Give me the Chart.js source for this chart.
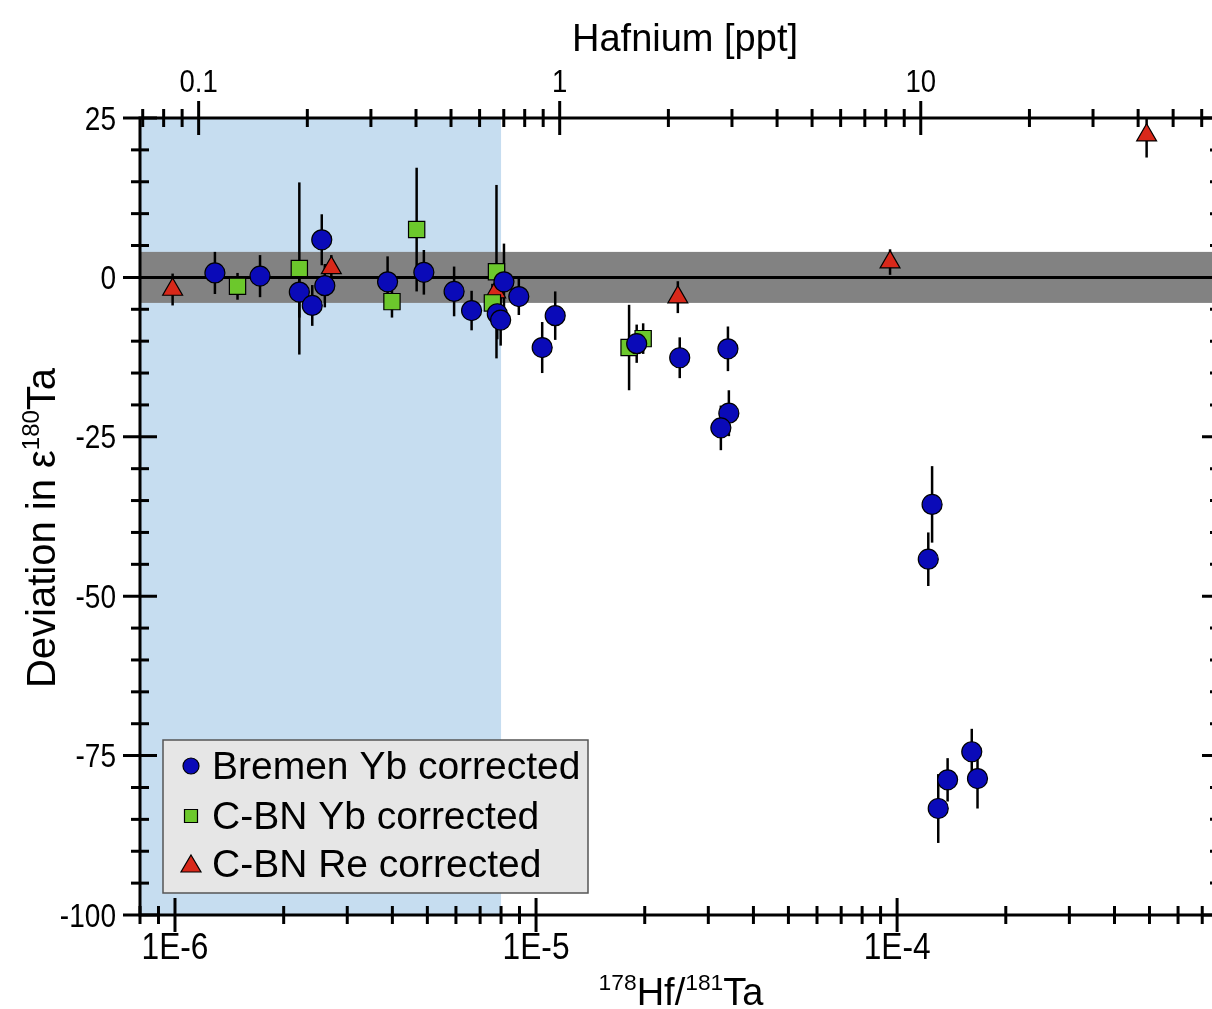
<!DOCTYPE html>
<html>
<head>
<meta charset="utf-8">
<script src="https://cdn.jsdelivr.net/npm/chart.js@4"></script>
<style>
  html, body { margin: 0; padding: 0; background: #fff; overflow: hidden; }
  #wrap { width: 1212px; height: 1009px; }
</style>
</head>
<body>
<div id="wrap"><canvas id="hfChart" width="1212" height="1009"></canvas></div>
<script>
//------------------------------------------- DATA ---------------------------------------------
// 178Hf/181Ta ratio, deviation in epsilon 180Ta and 2SD error
const bremenX = [1.29e-6, 1.72e-6, 2.21e-6, 2.40e-6, 2.55e-6, 2.60e-6, 3.88e-6, 4.89e-6, 5.93e-6, 6.63e-6,
  8.15e-6, 7.81e-6, 7.98e-6, 8.96e-6, 1.04e-5, 1.13e-5, 1.90e-5, 2.50e-5, 3.40e-5, 3.42e-5, 3.25e-5,
  1.25e-4, 1.22e-4, 1.30e-4, 1.38e-4, 1.61e-4, 1.67e-4];
const bremenY = [0.7, 0.2, -2.3, -4.4, 5.9, -1.3, -0.7, 0.8, -2.2, -5.2,
  -0.7, -5.7, -6.7, -3.0, -11.0, -6.0, -10.4, -12.6, -11.2, -21.3, -23.6,
  -35.6, -44.2, -83.3, -78.8, -74.4, -78.6];
const bremenErr = [3.3, 3.3, 4, 3.2, 4, 3.4, 4, 3.5, 3.9, 3.1,
  6, 4, 4, 2.9, 4, 3.8, 3, 3.2, 3.5, 3.6, 3.5,
  6, 4.2, 5.4, 3.4, 3.6, 4.7];

const cbnYbX = [1.49e-6, 2.21e-6, 3.99e-6, 4.67e-6, 7.77e-6, 7.57e-6, 1.81e-5, 1.98e-5];
const cbnYbY = [-1.4, 1.4, -3.8, 7.5, 0.9, -4.0, -11.0, -9.6];
const cbnYbErr = [2.1, 13.5, 2.5, 9.7, 13.6, 3, 6.7, 2.4];

const cbnReX = [9.85e-7, 2.71e-6, 7.73e-6, 2.47e-5, 9.56e-5, 4.91e-4];
const cbnReY = [-1.9, 1.5, -2.3, -3.1, 2.4, 22.3];
const cbnReErr = [2.5, 2, 2.5, 2.5, 2, 3.5];

const seriesLabels = ["Bremen Yb corrected", "C-BN Yb corrected", "C-BN Re corrected"];

// axes
const xRange = [8e-7, 7.45e-4];
const xMajorTicks = [1e-6, 1e-5, 1e-4];
const xTickLabels = ["1E-6", "1E-5", "1E-4"];
const ppt = 86000; // ratio -> Hf ppt
const topMajorTicks = [0.1, 1, 10];
const topTickLabels = ["0.1", "1", "10"];
const yRange = [-100, 25];
const yMajorTicks = [-100, -75, -50, -25, 0, 25];
const yTickLabels = ["-100", "-75", "-50", "-25", "0", "25"];
const yMinorStep = 5;

const shadeEnd = 8e-6;   // blue range
const bandHalf = 4;      // grey reproducibility band

const FONT = "'Liberation Sans', Arial, sans-serif";

//------------------------------------------ HELPERS --------------------------------------------
function pts(xs, ys) {
  return xs.map((v, i) => ({ x: v, y: ys[i] }));
}

function logMinors(min, max) {
  const out = [];
  for (let e = Math.floor(Math.log10(min)); e <= Math.ceil(Math.log10(max)); e++) {
    for (let m = 2; m <= 9; m++) {
      const v = m * Math.pow(10, e);
      if (v >= min && v <= max) out.push(v);
    }
  }
  return out;
}

function drawRich(ctx, parts, cx, base, size) {
  let w = 0;
  parts.forEach(([t, sup]) => {
    ctx.font = (sup ? size * 0.6 : size) + "px " + FONT;
    w += ctx.measureText(t).width;
  });
  let xx = cx - w / 2;
  ctx.textAlign = "left";
  ctx.textBaseline = "alphabetic";
  parts.forEach(([t, sup]) => {
    ctx.font = (sup ? size * 0.6 : size) + "px " + FONT;
    ctx.fillText(t, xx, sup ? base - size * 0.4 : base);
    xx += ctx.measureText(t).width;
  });
}

// tick labels in the figure are condensed, squeeze them horizontally
function narrowText(ctx, text, x, y, size, align, squeeze) {
  ctx.save();
  ctx.font = size + "px " + FONT;
  ctx.textAlign = align;
  ctx.textBaseline = "alphabetic";
  ctx.translate(x, y);
  ctx.scale(squeeze, 1);
  ctx.fillText(text, 0, 0);
  ctx.restore();
}

const errors = [bremenErr, cbnYbErr, cbnReErr];

//------------------------------------------ PLUGINS --------------------------------------------
const backdrop = {
  id: "backdrop",
  beforeDatasetsDraw(chart) {
    const { ctx, chartArea: a, scales } = chart;
    const x = scales.x, y = scales.y;
    ctx.save();
    ctx.beginPath();
    ctx.rect(a.left, a.top, a.right - a.left, a.bottom - a.top);
    ctx.clip();

    const xs = x.getPixelForValue(shadeEnd);
    ctx.fillStyle = "#c6ddf0";
    ctx.fillRect(a.left, a.top, xs - a.left, a.bottom - a.top);

    const yt = y.getPixelForValue(bandHalf), yb = y.getPixelForValue(-bandHalf);
    ctx.fillStyle = "#828282";
    ctx.fillRect(a.left, yt, a.right - a.left, yb - yt);

    ctx.strokeStyle = "#000";
    ctx.lineWidth = 3;
    ctx.beginPath();
    ctx.moveTo(a.left, y.getPixelForValue(0));
    ctx.lineTo(a.right, y.getPixelForValue(0));
    ctx.stroke();

    // error bars
    ctx.lineWidth = 2.5;
    chart.data.datasets.forEach((ds, i) => {
      ds.data.forEach((p, j) => {
        const e = errors[i][j];
        const px = x.getPixelForValue(p.x);
        ctx.beginPath();
        ctx.moveTo(px, y.getPixelForValue(p.y + e));
        ctx.lineTo(px, y.getPixelForValue(p.y - e));
        ctx.stroke();
      });
    });
    ctx.restore();
  },
};

const frame = {
  id: "frame",
  afterDraw(chart) {
    const { ctx, chartArea: a, scales } = chart;
    const x = scales.x, y = scales.y, top = scales.top;
    const rightAxis = a.right + 7; // right frame sits just outside the picture
    ctx.save();
    ctx.strokeStyle = "#000";
    ctx.lineWidth = 3;
    ctx.lineCap = "butt";

    // axis lines
    ctx.beginPath();
    ctx.moveTo(a.left, a.top); ctx.lineTo(a.right, a.top);
    ctx.moveTo(a.left, a.bottom); ctx.lineTo(a.right, a.bottom);
    ctx.moveTo(a.left, a.top - 1.5); ctx.lineTo(a.left, a.bottom + 1.5);
    ctx.stroke();

    const vTick = (px, py, up, down) => {
      ctx.beginPath(); ctx.moveTo(px, py - up); ctx.lineTo(px, py + down); ctx.stroke();
    };
    const hTick = (px, py, l, r) => {
      ctx.beginPath(); ctx.moveTo(px - l, py); ctx.lineTo(px + r, py); ctx.stroke();
    };

    // bottom axis
    logMinors(xRange[0], xRange[1]).forEach(v => vTick(x.getPixelForValue(v), a.bottom, 9, 9));
    xMajorTicks.forEach(v => vTick(x.getPixelForValue(v), a.bottom, 17, 17));
    // top axis (ppt)
    logMinors(xRange[0] * ppt, xRange[1] * ppt).forEach(v => vTick(top.getPixelForValue(v), a.top, 9, 9));
    topMajorTicks.forEach(v => vTick(top.getPixelForValue(v), a.top, 17, 17));
    // left / right axes
    for (let v = yRange[0]; v <= yRange[1]; v += yMinorStep) {
      const py = y.getPixelForValue(v);
      const major = yMajorTicks.includes(v);
      hTick(a.left, py, major ? 17 : 9, major ? 17 : 9);
      hTick(rightAxis, py, major ? 17 : 9, major ? 17 : 9);
    }

    // tick labels
    ctx.fillStyle = "#000";
    xMajorTicks.forEach((v, i) => narrowText(ctx, xTickLabels[i], x.getPixelForValue(v), 959, 36, "center", 0.88));
    topMajorTicks.forEach((v, i) => narrowText(ctx, topTickLabels[i], top.getPixelForValue(v), 92, 32, "center", 0.86));
    yMajorTicks.forEach((v, i) => narrowText(ctx, yTickLabels[i], 116, y.getPixelForValue(v) + 11.5, 33, "right", 0.85));

    // axis titles
    drawRich(ctx, [["Hafnium [ppt]", false]], 685, 51, 38);
    drawRich(ctx, [["178", true], ["Hf/", false], ["181", true], ["Ta", false]], 681, 1005, 38);
    ctx.save();
    ctx.translate(55, 528);
    ctx.rotate(-Math.PI / 2);
    drawRich(ctx, [["Deviation in ", false], ["\u03b5", false], ["180", true], ["Ta", false]], 0, 0, 40);
    ctx.restore();

    // legend box
    const lx = 163, ly = 740, lw = 425, lh = 153;
    ctx.fillStyle = "#e6e6e6";
    ctx.fillRect(lx, ly, lw, lh);
    ctx.strokeStyle = "#555";
    ctx.lineWidth = 1.5;
    ctx.strokeRect(lx, ly, lw, lh);
    const rows = [766, 816, 864];
    chart.data.datasets.forEach((ds, i) => {
      const cy = rows[i], cx = 191;
      ctx.fillStyle = ds.backgroundColor;
      ctx.strokeStyle = "#000";
      ctx.lineWidth = 1.2;
      ctx.beginPath();
      if (ds.pointStyle === "circle") {
        ctx.arc(cx, cy, 8, 0, Math.PI * 2);
      } else if (ds.pointStyle === "rect") {
        ctx.rect(cx - 6.5, cy - 6.5, 13, 13);
      } else {
        ctx.moveTo(cx, cy - 9);
        ctx.lineTo(cx + 10, cy + 8);
        ctx.lineTo(cx - 10, cy + 8);
        ctx.closePath();
      }
      ctx.fill();
      ctx.stroke();
      ctx.fillStyle = "#000";
      ctx.font = "39px " + FONT;
      ctx.textAlign = "left";
      ctx.textBaseline = "middle";
      ctx.fillText(ds.label, 212, cy + 2);
    });
    ctx.restore();
  },
};

//------------------------------------------ CHART ----------------------------------------------
const hfCTX = document.getElementById("hfChart");

const dataHf = {
  datasets: [
    {
      label: seriesLabels[0],
      data: pts(bremenX, bremenY),
      pointStyle: "circle",
      pointRadius: 10,
      backgroundColor: "#0a0ab8",
      borderColor: "#000",
      borderWidth: 1.2,
    },
    {
      label: seriesLabels[1],
      data: pts(cbnYbX, cbnYbY),
      pointStyle: "rect",
      pointRadius: 11.5,
      backgroundColor: "#6cc82c",
      borderColor: "#000",
      borderWidth: 1.2,
    },
    {
      label: seriesLabels[2],
      data: pts(cbnReX, cbnReY),
      pointStyle: "triangle",
      pointRadius: 11.5,
      backgroundColor: "#d8281a",
      borderColor: "#000",
      borderWidth: 1.2,
    },
  ],
};

const hiddenTicks = { display: false };

const configHf = {
  type: "scatter",
  data: dataHf,
  options: {
    responsive: false,
    animation: false,
    devicePixelRatio: 1,
    layout: { padding: 0, autoPadding: false },
    plugins: {
      legend: { display: false },
      tooltip: { enabled: false },
    },
    scales: {
      x: {
        type: "logarithmic",
        position: "bottom",
        min: xRange[0],
        max: xRange[1],
        grid: { display: false, drawTicks: false },
        border: { display: false },
        ticks: hiddenTicks,
        afterFit: (s) => { s.height = 94; },
      },
      top: {
        type: "logarithmic",
        position: "top",
        min: xRange[0] * ppt,
        max: xRange[1] * ppt,
        grid: { display: false, drawTicks: false },
        border: { display: false },
        ticks: hiddenTicks,
        afterFit: (s) => { s.height = 118; },
      },
      y: {
        type: "linear",
        position: "left",
        min: yRange[0],
        max: yRange[1],
        grid: { display: false, drawTicks: false },
        border: { display: false },
        ticks: hiddenTicks,
        afterFit: (s) => { s.width = 140; },
      },
    },
  },
  plugins: [backdrop, frame],
};

const hfChart = new Chart(hfCTX, configHf);
</script>
</body>
</html>
